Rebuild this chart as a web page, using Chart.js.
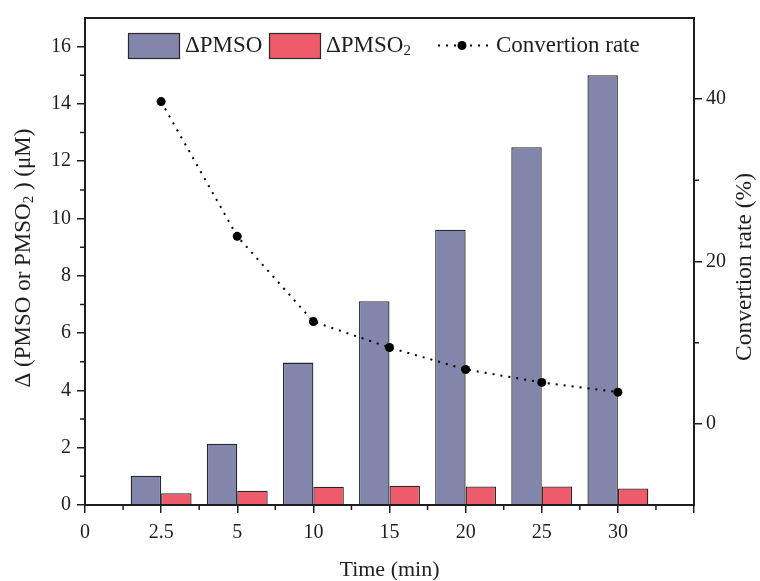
<!DOCTYPE html>
<html>
<head>
<meta charset="utf-8">
<script src="https://cdn.jsdelivr.net/npm/chart.js@4.4.0/dist/chart.umd.min.js"></script>
<style>
  html, body { margin: 0; padding: 0; background: #fff; }
  canvas { display: block; }
</style>
</head>
<body>
<canvas id="chart" width="760" height="581"></canvas>
<script>
// reaction time (min) and measured quantities
var times = ['0', '2.5', '5', '10', '15', '20', '25', '30'];
var pmso = [1.02, 2.14, 4.97, 7.11, 9.61, 12.49, 15.0];
var pmso2 = [0.41, 0.50, 0.64, 0.67, 0.65, 0.65, 0.58];
var conversion = [39.7, 23.1, 12.6, 9.4, 6.7, 5.1, 3.9];
var leftTicks = [0, 2, 4, 6, 8, 10, 12, 14, 16];
var rightTicks = [0, 20, 40];

var FONT = "'Liberation Serif', 'Times New Roman', serif";
var INK = '#1e1e1e';
var BLUE = '#8386ab';
var RED = '#ee5b6b';

// first slot (t = 0) and the trailing slot stay empty
var labels = times.concat(['']);
function pad(arr) { return [null].concat(arr, [null]); }

function fixedTicks(values) {
  return function (scale) {
    scale.ticks = values.map(function (v) { return { value: v }; });
  };
}

// text with a "2" subscript, drawn piece by piece
function drawSubText(ctx, parts, x, y, size) {
  var cx = x;
  parts.forEach(function (p) {
    if (p.sub) {
      ctx.font = Math.round(size * 0.65) + 'px ' + FONT;
      ctx.fillText(p.text, cx, y + size * 0.24);
    } else {
      ctx.font = size + 'px ' + FONT;
      ctx.fillText(p.text, cx, y);
    }
    cx += ctx.measureText(p.text).width;
  });
  return cx - x;
}
function measureSubText(ctx, parts, size) {
  var w = 0;
  parts.forEach(function (p) {
    ctx.font = (p.sub ? Math.round(size * 0.65) : size) + 'px ' + FONT;
    w += ctx.measureText(p.text).width;
  });
  return w;
}

var decor = {
  id: 'decor',
  afterDraw: function (chart) {
    var ctx = chart.ctx;
    var a = chart.chartArea;
    var xs = chart.scales.x, yl = chart.scales.y, yr = chart.scales.y1;
    ctx.save();

    // frame
    ctx.strokeStyle = INK;
    ctx.lineWidth = 2;
    ctx.strokeRect(a.left, a.top, a.right - a.left, a.bottom - a.top);

    // minor ticks
    ctx.lineWidth = 1.5;
    ctx.beginPath();
    for (var i = 0; i < labels.length - 1; i++) {
      var px = (xs.getPixelForTick(i) + xs.getPixelForTick(i + 1)) / 2;
      ctx.moveTo(px, a.bottom); ctx.lineTo(px, a.bottom + 5);
    }
    for (var v = 1; v < 17; v += 2) {
      var py = yl.getPixelForValue(v);
      ctx.moveTo(a.left - 5, py); ctx.lineTo(a.left, py);
    }
    [10, 30].forEach(function (r) {
      var py = yr.getPixelForValue(r);
      ctx.moveTo(a.right, py); ctx.lineTo(a.right + 5, py);
    });
    ctx.stroke();

    // legend
    ctx.textBaseline = 'middle';
    var ly = 45.5;
    ctx.lineWidth = 1.2;
    ctx.strokeStyle = '#2a2a2a';
    ctx.fillStyle = BLUE;
    ctx.fillRect(128.5, 33.5, 51, 25);
    ctx.strokeRect(128.5, 33.5, 51, 25);
    ctx.fillStyle = RED;
    ctx.fillRect(269.5, 33.5, 51, 25);
    ctx.strokeRect(269.5, 33.5, 51, 25);
    ctx.fillStyle = INK;
    drawSubText(ctx, [{ text: '\u0394PMSO' }], 185, ly, 23);
    drawSubText(ctx, [{ text: '\u0394PMSO' }, { text: '2', sub: true }], 326, ly, 23);
    ctx.strokeStyle = '#000';
    ctx.lineWidth = 2;
    ctx.setLineDash([2, 6]);
    ctx.beginPath();
    ctx.moveTo(438, ly); ctx.lineTo(488, ly);
    ctx.stroke();
    ctx.setLineDash([]);
    ctx.fillStyle = '#000';
    ctx.beginPath();
    ctx.arc(462, ly, 4.5, 0, Math.PI * 2);
    ctx.fill();
    ctx.fillStyle = INK;
    drawSubText(ctx, [{ text: 'Convertion rate' }], 496, ly, 23);

    // axis titles
    ctx.textAlign = 'left';
    ctx.textBaseline = 'middle';
    var xt = [{ text: 'Time (min)' }];
    var w = measureSubText(ctx, xt, 22);
    drawSubText(ctx, xt, (a.left + a.right) / 2 - w / 2, 570, 22);

    var lt = [{ text: '\u0394 (PMSO or PMSO' }, { text: '2', sub: true }, { text: ' ) (\u03bcM)' }];
    ctx.save();
    ctx.translate(24, 258);
    ctx.rotate(-Math.PI / 2);
    w = measureSubText(ctx, lt, 23);
    drawSubText(ctx, lt, -w / 2, 0, 23);
    ctx.restore();

    var rt = [{ text: 'Convertion rate (%)' }];
    ctx.save();
    ctx.translate(745, 267);
    ctx.rotate(-Math.PI / 2);
    w = measureSubText(ctx, rt, 23.5);
    drawSubText(ctx, rt, -w / 2, 0, 23.5);
    ctx.restore();

    ctx.restore();
  }
};

var tickFont = { family: FONT, size: 20 };

new Chart(document.getElementById('chart'), {
  type: 'bar',
  data: {
    labels: labels,
    datasets: [
      {
        type: 'line',
        label: 'Convertion rate',
        data: pad(conversion),
        yAxisID: 'y1',
        order: 0,
        borderColor: '#000',
        borderWidth: 2,
        borderDash: [2, 6],
        pointRadius: 4.5,
        pointBorderWidth: 0,
        pointBackgroundColor: '#000',
        tension: 0
      },
      {
        label: '\u0394PMSO',
        data: pad(pmso),
        yAxisID: 'y',
        order: 1,
        backgroundColor: BLUE,
        borderColor: '#26262e',
        borderWidth: 1.3,
        categoryPercentage: 0.8,
        barPercentage: 1.0
      },
      {
        label: '\u0394PMSO2',
        data: pad(pmso2),
        yAxisID: 'y',
        order: 1,
        backgroundColor: RED,
        borderColor: '#2e2626',
        borderWidth: 1.3,
        categoryPercentage: 0.8,
        barPercentage: 1.0
      }
    ]
  },
  options: {
    responsive: false,
    animation: false,
    layout: { padding: { top: 15, left: 0, right: 0, bottom: 0 } },
    plugins: { legend: { display: false }, tooltip: { enabled: false } },
    scales: {
      x: {
        type: 'category',
        offset: false,
        grid: { offset: false, drawOnChartArea: false, color: INK, lineWidth: 1.5, tickLength: 8 },
        border: { display: false },
        ticks: { font: tickFont, color: INK, padding: 8, maxRotation: 0, autoSkip: false },
        afterFit: function (s) { s.height = 76; }
      },
      y: {
        position: 'left',
        min: 0,
        max: 17,
        afterBuildTicks: fixedTicks(leftTicks),
        grid: { drawOnChartArea: false, color: INK, lineWidth: 1.5, tickLength: 8 },
        border: { display: false },
        ticks: { font: tickFont, color: INK, padding: 6 },
        afterFit: function (s) { s.width = 85; }
      },
      y1: {
        position: 'right',
        min: -10,
        max: 50,
        afterBuildTicks: fixedTicks(rightTicks),
        grid: { drawOnChartArea: false, color: INK, lineWidth: 1.5, tickLength: 8 },
        border: { display: false },
        ticks: { font: tickFont, color: INK, padding: 4 },
        afterFit: function (s) { s.width = 66; }
      }
    }
  },
  plugins: [decor]
});
</script>
</body>
</html>
